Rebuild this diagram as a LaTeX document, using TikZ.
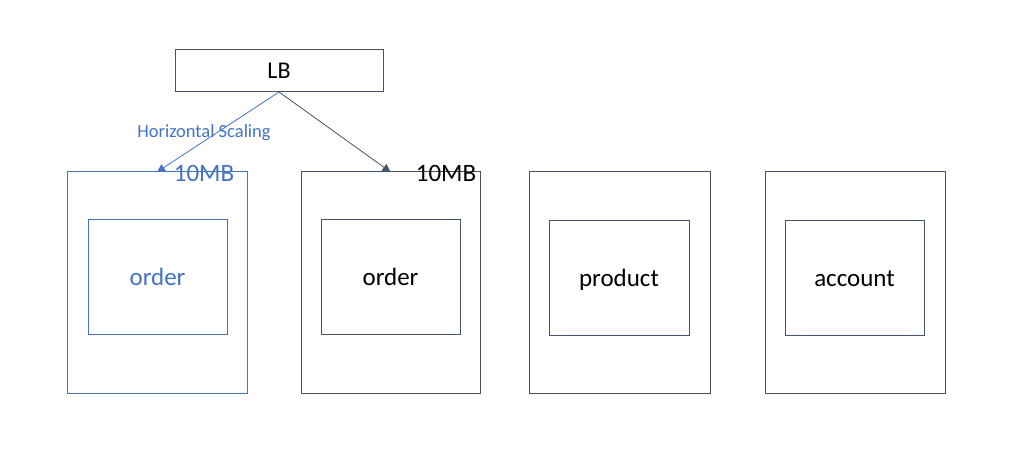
\documentclass[tikz,border=0pt]{standalone}
\usepackage{fontspec}
\setmainfont{Carlito}
\usetikzlibrary{arrows.meta}
\definecolor{obl}{HTML}{4472C4}
\definecolor{ogr}{HTML}{44546A}
\tikzset{
  box/.style={draw=ogr, line width=1pt, inner sep=0pt, outer sep=0pt, font=\fontsize{25}{30}\selectfont},
  inbox/.style={box, text height=18pt, text depth=0pt},
  bluecol/.style={draw=obl, text=obl},
  conn/.style={line width=0.8pt, -{Triangle[length=8pt,width=8pt]}},
  lbl/.style={inner sep=0pt, font=\fontsize{25}{30}\selectfont}
}
\begin{document}
\begin{tikzpicture}[x=1pt,y=-1pt]
\fill[white] (0,0) rectangle (1015,465);
\useasboundingbox (0,0) rectangle (1015,465);
\node[box, minimum width=208pt, minimum height=42pt, font=\fontsize{24}{28}\selectfont] (lb) at (279,71) {LB};
\node[box, bluecol, minimum width=180pt, minimum height=221pt] (s1) at (157,282.5) {};
\node[box, minimum width=179pt, minimum height=221pt] (s2) at (390.5,282.5) {};
\node[box, minimum width=181pt, minimum height=221pt] (s3) at (619.5,282.5) {};
\node[box, minimum width=180pt, minimum height=221pt] (s4) at (855,282.5) {};
\node[inbox, bluecol, minimum width=139pt, minimum height=114pt] (m1) at (157.5,277) {order};
\node[inbox, minimum width=139pt, minimum height=114pt] (m2) at (390.5,277) {order};
\node[inbox, minimum width=140pt, minimum height=114pt] (m3) at (619,278) {product};
\node[inbox, minimum width=139pt, minimum height=114pt] (m4) at (854.5,278) {account};
\draw[conn, obl] (lb.south) -- (s1.north);
\draw[conn, ogr] (lb.south) -- (s2.north);
\node[lbl, text=obl, text depth=0pt, font=\fontsize{18.5}{22}\selectfont] (hs) at (204,131) {Horizontal Scaling};
\node[lbl, text=obl] (c1) at (204,173) {10MB};
\node[lbl, text=black] (c2) at (446,173) {10MB};
\end{tikzpicture}
\end{document}
